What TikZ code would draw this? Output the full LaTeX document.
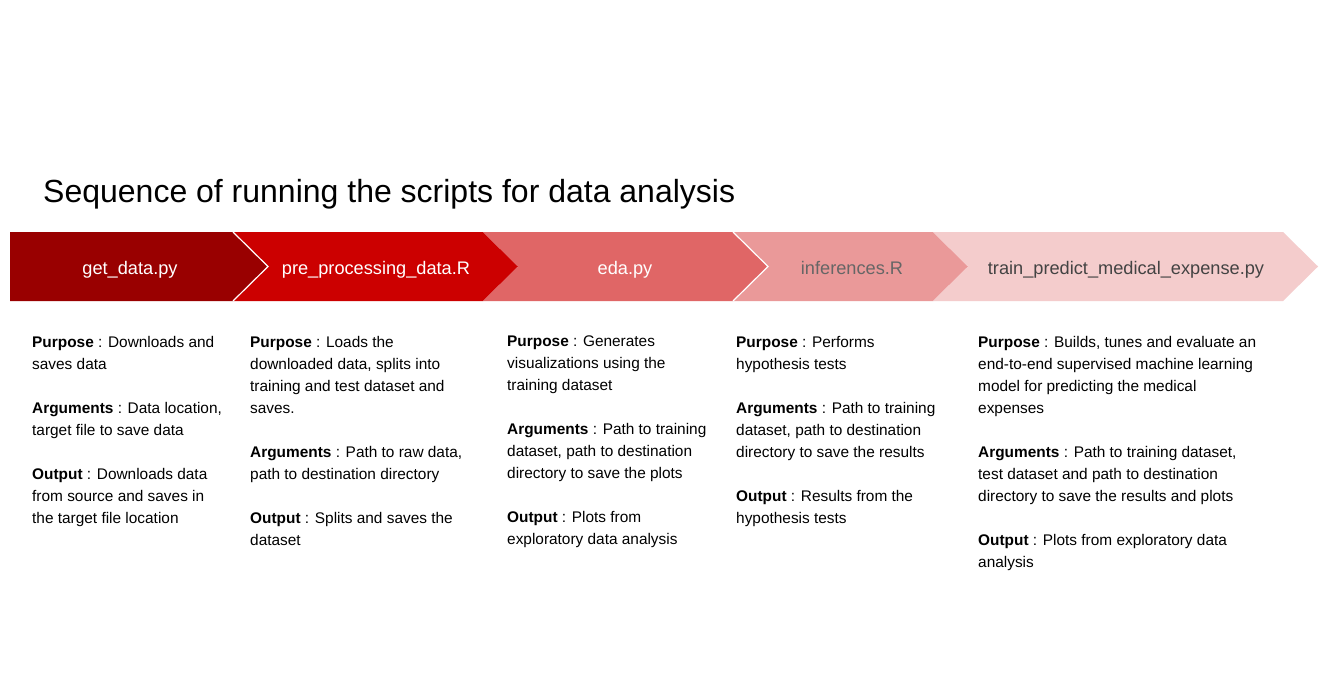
\documentclass[tikz,border=0pt]{standalone}
\usepackage{fontspec}
\setmainfont{Liberation Sans}
\definecolor{c1}{HTML}{990000}
\definecolor{c2}{HTML}{CC0000}
\definecolor{c3}{HTML}{E06666}
\definecolor{c4}{HTML}{EA9999}
\definecolor{c5}{HTML}{F4CCCC}
\definecolor{tgray}{HTML}{666666}
\definecolor{tdark}{HTML}{434343}
\begin{document}
\begin{tikzpicture}[x=1pt,y=-1pt,
  lbl/.style={font=\fontsize{18.2}{20}\selectfont, inner sep=0pt, anchor=base},
  desc/.style={font=\fontsize{15.4}{22}\selectfont, align=left, inner sep=0pt, anchor=north west, text=black},
  sep/.style={draw=white, line width=1.2pt}]
\useasboundingbox (0,0) rectangle (1324,693);
\fill[white] (0,0) rectangle (1324,693);
\node[font=\fontsize{32}{38}\selectfont, anchor=west, inner sep=0pt] (title) at (43,194) {Sequence of running the scripts for data analysis};
% chevrons
\def\ytop{232}\def\ybot{301}\def\ymid{266.5}
\fill[c1] (10,\ytop) -- (233,\ytop) -- (268,\ymid) -- (233,\ybot) -- (10,\ybot) -- cycle;
\fill[c2] (233,\ytop) -- (483,\ytop) -- (518,\ymid) -- (483,\ybot) -- (233,\ybot) -- (268,\ymid) -- cycle;
\fill[c3] (483,\ytop) -- (733,\ytop) -- (768,\ymid) -- (733,\ybot) -- (483,\ybot) -- (518,\ymid) -- cycle;
\fill[c4] (733,\ytop) -- (933,\ytop) -- (968,\ymid) -- (933,\ybot) -- (733,\ybot) -- (768,\ymid) -- cycle;
\fill[c5] (933,\ytop) -- (1283,\ytop) -- (1318,\ymid) -- (1283,\ybot) -- (933,\ybot) -- (968,\ymid) -- cycle;
\draw[sep] (233,\ytop) -- (268,\ymid) -- (233,\ybot);
\draw[sep] (733,\ytop) -- (768,\ymid) -- (733,\ybot);
\node[lbl, text=white] (s1) at (130,274) {get\_data.py};
\node[lbl, text=white] (s2) at (376,274) {pre\_processing\_data.R};
\node[lbl, text=white] (s3) at (625,274) {eda.py};
\node[lbl, text=tgray] (s4) at (852,274) {inferences.R};
\node[lbl, text=tdark] (s5) at (1126,274) {train\_predict\_medical\_expense.py};
% descriptions
\node[desc] (d1) at (32,336) {\textbf{Purpose} : Downloads and\\saves data\\[22pt]\textbf{Arguments} : Data location,\\target file to save data\\[22pt]\textbf{Output} : Downloads data\\from source and saves in\\the target file location};
\node[desc] (d2) at (250,336) {\textbf{Purpose} : Loads the\\downloaded data, splits into\\training and test dataset and\\saves.\\[22pt]\textbf{Arguments} : Path to raw data,\\path to destination directory\\[22pt]\textbf{Output} : Splits and saves the\\dataset};
\node[desc] (d3) at (507,336) {\textbf{Purpose} : Generates\\visualizations using the\\training dataset\\[22pt]\textbf{Arguments} : Path to training\\dataset, path to destination\\directory to save the plots\\[22pt]\textbf{Output} : Plots from\\exploratory data analysis};
\node[desc] (d4) at (736,336) {\textbf{Purpose} : Performs\\hypothesis tests\\[22pt]\textbf{Arguments} : Path to training\\dataset, path to destination\\directory to save the results\\[22pt]\textbf{Output} : Results from the\\hypothesis tests};
\node[desc] (d5) at (978,336) {\textbf{Purpose} : Builds, tunes and evaluate an\\end-to-end supervised machine learning\\model for predicting the medical\\expenses\\[22pt]\textbf{Arguments} : Path to training dataset,\\test dataset and path to destination\\directory to save the results and plots\\[22pt]\textbf{Output} : Plots from exploratory data\\analysis};
\end{tikzpicture}
\end{document}
